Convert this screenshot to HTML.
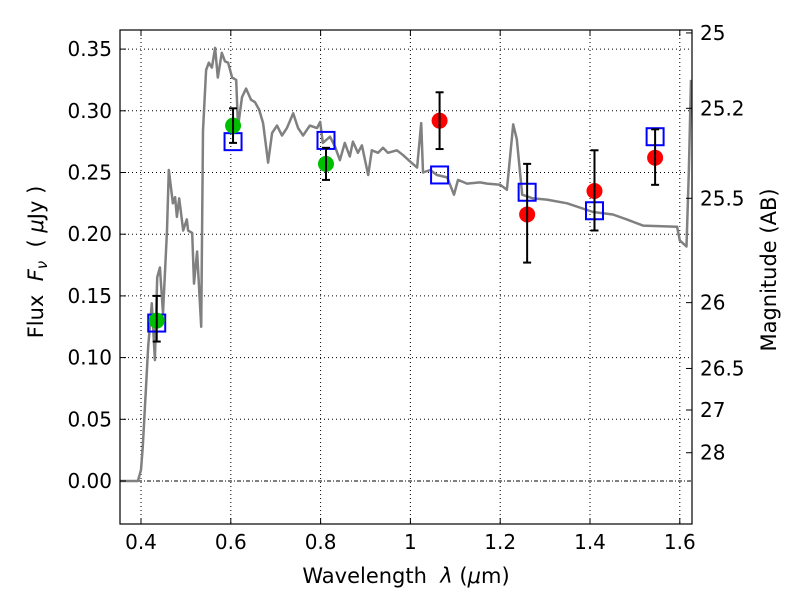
<!DOCTYPE html>
<html><head><meta charset="utf-8"><style>
body{margin:0;background:#fff}
svg text{font-family:"DejaVu Sans","Liberation Sans",sans-serif;fill:#000}
</style></head><body>
<svg id="chart" width="800" height="600" xmlns="http://www.w3.org/2000/svg">
<rect width="800" height="600" fill="#fff"/>
<g id="grid"></g>
<g id="plot"></g>
<g id="axes"></g>
</svg>
<script>
const xTicks=[0.4,0.6,0.8,1.0,1.2,1.4,1.6];
const xTickLabels=["0.4","0.6","0.8","1","1.2","1.4","1.6"];
const yTicks=[0,0.05,0.10,0.15,0.20,0.25,0.30,0.35];
const yTickLabels=["0.00","0.05","0.10","0.15","0.20","0.25","0.30","0.35"];
const magTicks=[25,25.2,25.5,26,26.5,27,28];
const magTickLabels=["25","25.2","25.5","26","26.5","27","28"];
const sedWave=[0.353,0.393,0.400,0.404,0.416,0.424,0.431,0.436,0.442,0.449,0.458,0.462,0.471,0.476,0.480,0.485,0.494,0.502,0.505,0.514,0.518,0.525,0.534,0.538,0.545,0.551,0.558,0.565,0.571,0.580,0.587,0.594,0.603,0.612,0.616,0.625,0.634,0.645,0.654,0.663,0.672,0.683,0.692,0.703,0.714,0.725,0.739,0.750,0.761,0.776,0.792,0.799,0.805,0.821,0.832,0.843,0.854,0.865,0.872,0.883,0.892,0.906,0.914,0.928,0.939,0.950,0.970,0.984,0.999,1.015,1.024,1.028,1.044,1.059,1.082,1.097,1.106,1.126,1.155,1.171,1.200,1.215,1.229,1.237,1.249,1.273,1.304,1.349,1.407,1.451,1.482,1.518,1.594,1.600,1.615,1.620,1.625];
const sedFlux=[0,0,0.009,0.028,0.109,0.144,0.098,0.165,0.173,0.136,0.203,0.252,0.225,0.230,0.214,0.229,0.203,0.212,0.203,0.201,0.160,0.186,0.125,0.284,0.333,0.339,0.335,0.351,0.327,0.347,0.340,0.339,0.327,0.325,0.287,0.311,0.318,0.309,0.307,0.301,0.290,0.258,0.282,0.288,0.280,0.286,0.298,0.286,0.280,0.288,0.286,0.291,0.274,0.279,0.271,0.260,0.274,0.263,0.275,0.266,0.272,0.248,0.268,0.266,0.270,0.266,0.268,0.264,0.259,0.254,0.290,0.250,0.252,0.248,0.246,0.232,0.244,0.241,0.242,0.241,0.240,0.236,0.289,0.277,0.232,0.229,0.228,0.225,0.218,0.216,0.212,0.207,0.206,0.195,0.190,0.250,0.325];
const greenWave=[0.435,0.605,0.812];
const greenFlux=[0.130,0.288,0.257];
const greenErrHi=[0.150,0.302,0.270];
const greenErrLo=[0.113,0.274,0.244];
const redWave=[1.065,1.26,1.41,1.545];
const redFlux=[0.292,0.216,0.235,0.262];
const redErrHi=[0.315,0.257,0.268,0.285];
const redErrLo=[0.269,0.177,0.203,0.240];
const modelWave=[0.435,0.605,0.812,1.065,1.26,1.41,1.545];
const modelFlux=[0.128,0.275,0.276,0.248,0.234,0.219,0.279];

const L=120,R=692,T=30,B=524;
const X=v=>141+(v-0.4)*449;
const Y=v=>481-v*1234;
const NS="http://www.w3.org/2000/svg";
function mk(tag,attrs,parent,txt){const e=document.createElementNS(NS,tag);for(const k in attrs)e.setAttribute(k,attrs[k]);if(txt!==undefined)e.textContent=txt;parent.appendChild(e);return e;}
const grid=document.getElementById('grid'),plot=document.getElementById('plot'),axes=document.getElementById('axes');
xTicks.forEach((t,i)=>{const l=mk('line',{x1:X(t),x2:X(t),y1:T,y2:B,stroke:'#000','stroke-width':1,'stroke-dasharray':'1,3'},grid);

});
yTicks.forEach((t,i)=>{if(t===0)return;const l=mk('line',{x1:L,x2:R,y1:Y(t),y2:Y(t),stroke:'#000','stroke-width':1,'stroke-dasharray':'1,3'},grid);

});
const zl=mk('line',{x1:L,x2:R,y1:Y(0),y2:Y(0),stroke:'#000','stroke-width':1,'stroke-dasharray':'4,2,1,2'},grid);


let d='';sedWave.forEach((w,i)=>{d+=(i?'L':'M')+X(w).toFixed(1)+','+Y(sedFlux[i]).toFixed(1);});
const sed=mk('path',{d:d,fill:'none',stroke:'#808080','stroke-width':2.5,'stroke-linejoin':'round'},plot);


modelWave.forEach((w,i)=>{const s=mk('rect',{x:X(w)-8.5,y:Y(modelFlux[i])-8.5,width:17,height:17,fill:'none',stroke:'#0000ff','stroke-width':2},plot);

});
function errbar(w,hi,lo){const g=mk('g',{stroke:'#000','stroke-width':2},plot);


mk('line',{x1:X(w),x2:X(w),y1:Y(hi),y2:Y(lo)},g);mk('line',{x1:X(w)-4,x2:X(w)+4,y1:Y(hi),y2:Y(hi)},g);mk('line',{x1:X(w)-4,x2:X(w)+4,y1:Y(lo),y2:Y(lo)},g);}
greenWave.forEach((w,i)=>{const c=mk('circle',{cx:X(w),cy:Y(greenFlux[i]),r:8,fill:'#00bf00'},plot);


errbar(w,greenErrHi[i],greenErrLo[i]);});
redWave.forEach((w,i)=>{const c=mk('circle',{cx:X(w),cy:Y(redFlux[i]),r:8,fill:'#ff0000'},plot);


errbar(w,redErrHi[i],redErrLo[i]);});
const fr=mk('rect',{x:L,y:T,width:R-L,height:B-T,fill:'none',stroke:'#000','stroke-width':1.2},axes);


xTicks.forEach((t,i)=>{mk('line',{x1:X(t),x2:X(t),y1:B,y2:B-6,stroke:'#000'},axes);mk('line',{x1:X(t),x2:X(t),y1:T,y2:T+6,stroke:'#000'},axes);
const tx=mk('text',{x:X(t),y:B+25,'font-size':20,'text-anchor':'middle'},axes,xTickLabels[i]);

});
yTicks.forEach((t,i)=>{mk('line',{x1:L,x2:L+6,y1:Y(t),y2:Y(t),stroke:'#000'},axes);
const tx=mk('text',{x:L-8,y:Y(t)+7,'font-size':20,'text-anchor':'end'},axes,yTickLabels[i]);

});
magTicks.forEach((m,i)=>{const f=3631e6*Math.pow(10,-0.4*m);mk('line',{x1:R,x2:R-6,y1:Y(f),y2:Y(f),stroke:'#000'},axes);
const tx=mk('text',{x:R+8,y:Y(f)+7,'font-size':20},axes,magTickLabels[i]);

});
</script>
<svg style="position:absolute;left:0;top:0" width="800" height="600" xmlns="http://www.w3.org/2000/svg">
<text x="406" y="583" font-size="21" text-anchor="middle">Wavelength&#160;&#160;<tspan font-style="italic">λ</tspan> (<tspan font-style="italic">μ</tspan>m)</text>
<text transform="translate(43,262) rotate(-90)" font-size="21" text-anchor="middle">Flux&#160;&#160;<tspan font-style="italic">F</tspan><tspan font-style="italic" font-size="15" dy="4">ν</tspan><tspan dy="-4">&#160;&#160;( <tspan font-style="italic">μ</tspan>Jy )</tspan></text>
<text transform="translate(776,270) rotate(-90)" font-size="21" text-anchor="middle">Magnitude (AB)</text>
</svg>
</body></html>
